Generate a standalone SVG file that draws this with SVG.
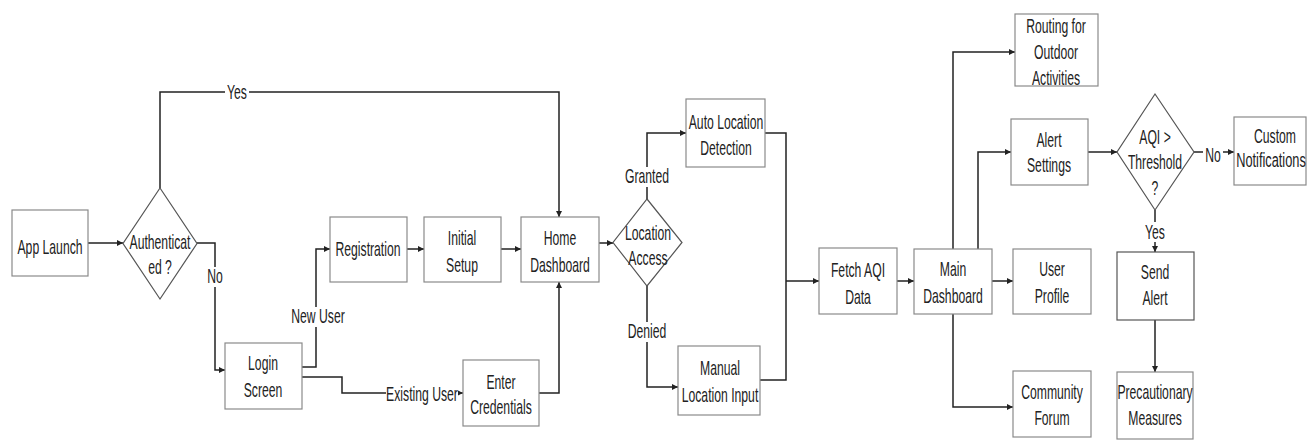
<svg xmlns="http://www.w3.org/2000/svg" width="1307" height="440" viewBox="0 0 1307 440">
<style>
.box{fill:#fff;stroke:#8a8a8a;stroke-width:1.2}
.dia{fill:#fff;stroke:#555;stroke-width:1.2}
.t{font-family:"Liberation Sans","Arial",sans-serif;font-size:20px;fill:#222;text-anchor:middle}
.c{fill:none;stroke:#222;stroke-width:1.5;marker-end:url(#a)}
.n{fill:none;stroke:#222;stroke-width:1.5}
.lb{fill:#fff}
</style>
<defs>
<marker id="a" markerUnits="userSpaceOnUse" markerWidth="8" markerHeight="8" refX="6" refY="3" orient="auto">
<path d="M0,0 L6,3 L0,6 Z" fill="#222"/>
</marker>
</defs>
<rect width="1307" height="440" fill="#fff"/>
<g id="connectors">
<path class="c" d="M88,243 H123"/>
<path class="c" d="M160,188 V92 H559 V217"/>
<path class="c" d="M197,243 H215 V370 H225"/>
<path class="c" d="M302,367 H316 V249 H330"/>
<path class="c" d="M302,377 H342 V393 H463"/>
<path class="c" d="M407,249 H424"/>
<path class="c" d="M501,249 H521"/>
<path class="c" d="M539,393 H559 V282"/>
<path class="c" d="M599,243 H613"/>
<path class="c" d="M647,199 V133 H686"/>
<path class="c" d="M647,286 V387 H678"/>
<path class="n" d="M765,133 H786 V380 H760"/>
<path class="c" d="M786,281 H819"/>
<path class="c" d="M897,281 H914"/>
<path class="c" d="M992,281 H1013"/>
<path class="c" d="M953,249 V52 H1015"/>
<path class="c" d="M978,249 V152 H1011"/>
<path class="c" d="M953,314 V407 H1013"/>
<path class="c" d="M1088,152 H1117"/>
<path class="c" d="M1194,152 H1234"/>
<path class="c" d="M1155,210 V252"/>
<path class="c" d="M1155,320 V372"/>
<rect class="lb" x="225" y="84" width="24" height="16"/>
<text class="t" transform="matrix(0.61 0 0 1 237 99)">Yes</text>
<rect class="lb" x="206" y="267" width="18" height="20"/>
<text class="t" transform="matrix(0.61 0 0 1 215 283)">No</text>
<rect class="lb" x="291" y="307" width="54" height="20"/>
<text class="t" transform="matrix(0.61 0 0 1 318 323)">New User</text>
<rect class="lb" x="386" y="384" width="72" height="20"/>
<text class="t" transform="matrix(0.61 0 0 1 422 401)">Existing User</text>
<rect class="lb" x="626" y="167" width="42" height="20"/>
<text class="t" transform="matrix(0.61 0 0 1 647 183)">Granted</text>
<rect class="lb" x="627" y="322" width="40" height="20"/>
<text class="t" transform="matrix(0.61 0 0 1 647 338)">Denied</text>
<rect class="lb" x="1203" y="145" width="20" height="18"/>
<text class="t" transform="matrix(0.61 0 0 1 1213 162)">No</text>
<rect class="lb" x="1143" y="222" width="24" height="20"/>
<text class="t" transform="matrix(0.61 0 0 1 1155 239)">Yes</text>
</g>
<g id="app-launch"><rect class="box" x="12" y="210" width="76" height="66"/><text class="t" transform="matrix(0.61 0 0 1 50 254)">App Launch</text></g>
<g id="authenticated"><path class="dia" d="M160,188 L197,243.5 L160,299 L123,243.5 Z"/><text class="t" transform="matrix(0.61 0 0 1 160 249)">Authenticat</text><text class="t" transform="matrix(0.61 0 0 1 160 274)">ed ?</text></g>
<g id="login-screen"><rect class="box" x="225" y="343" width="77" height="66"/><text class="t" transform="matrix(0.61 0 0 1 263 370)">Login</text><text class="t" transform="matrix(0.61 0 0 1 263 397)">Screen</text></g>
<g id="registration"><rect class="box" x="330" y="217" width="77" height="65"/><text class="t" transform="matrix(0.61 0 0 1 368 256)">Registration</text></g>
<g id="initial-setup"><rect class="box" x="424" y="217" width="77" height="65"/><text class="t" transform="matrix(0.61 0 0 1 462 245)">Initial</text><text class="t" transform="matrix(0.61 0 0 1 462 272)">Setup</text></g>
<g id="home-dashboard"><rect class="box" x="521" y="217" width="78" height="65"/><text class="t" transform="matrix(0.61 0 0 1 560 245)">Home</text><text class="t" transform="matrix(0.61 0 0 1 560 272)">Dashboard</text></g>
<g id="enter-credentials"><rect class="box" x="463" y="360" width="76" height="66"/><text class="t" transform="matrix(0.61 0 0 1 501 389)">Enter</text><text class="t" transform="matrix(0.61 0 0 1 501 414)">Credentials</text></g>
<g id="location-access"><path class="dia" d="M647,199 L682,242.5 L647,286 L613,242.5 Z"/><text class="t" transform="matrix(0.61 0 0 1 648 240)">Location</text><text class="t" transform="matrix(0.61 0 0 1 648 265)">Access</text></g>
<g id="auto-location"><rect class="box" x="686" y="99" width="79" height="68"/><text class="t" transform="matrix(0.61 0 0 1 726 129)">Auto Location</text><text class="t" transform="matrix(0.61 0 0 1 726 155)">Detection</text></g>
<g id="manual-location"><rect class="box" x="678" y="346" width="82" height="69"/><text class="t" transform="matrix(0.61 0 0 1 720 375)">Manual</text><text class="t" transform="matrix(0.61 0 0 1 720 402)">Location Input</text></g>
<g id="fetch-aqi"><rect class="box" x="819" y="248" width="78" height="66"/><text class="t" transform="matrix(0.61 0 0 1 858 277)">Fetch AQI</text><text class="t" transform="matrix(0.61 0 0 1 858 304)">Data</text></g>
<g id="main-dashboard"><rect class="box" x="914" y="249" width="78" height="65"/><text class="t" transform="matrix(0.61 0 0 1 953 276)">Main</text><text class="t" transform="matrix(0.61 0 0 1 953 303)">Dashboard</text></g>
<g id="routing"><rect class="box" x="1015" y="14" width="83" height="72"/><text class="t" transform="matrix(0.61 0 0 1 1056 33)">Routing for</text><text class="t" transform="matrix(0.61 0 0 1 1056 59)">Outdoor</text><text class="t" transform="matrix(0.61 0 0 1 1056 85)">Activities</text></g>
<g id="alert-settings"><rect class="box" x="1011" y="119" width="77" height="66"/><text class="t" transform="matrix(0.61 0 0 1 1049 147)">Alert</text><text class="t" transform="matrix(0.61 0 0 1 1049 172)">Settings</text></g>
<g id="user-profile"><rect class="box" x="1013" y="249" width="78" height="65"/><text class="t" transform="matrix(0.61 0 0 1 1052 276)">User</text><text class="t" transform="matrix(0.61 0 0 1 1052 303)">Profile</text></g>
<g id="community-forum"><rect class="box" x="1013" y="371" width="78" height="66"/><text class="t" transform="matrix(0.61 0 0 1 1052 399)">Community</text><text class="t" transform="matrix(0.61 0 0 1 1052 425)">Forum</text></g>
<g id="aqi-threshold"><path class="dia" d="M1155,94 L1194,152 L1155,210 L1117,152 Z"/><text class="t" transform="matrix(0.61 0 0 1 1155 144)">AQI &gt;</text><text class="t" transform="matrix(0.61 0 0 1 1155 169)">Threshold</text><text class="t" transform="matrix(0.61 0 0 1 1155 195)">?</text></g>
<g id="custom-notifications"><rect class="box" x="1234" y="117" width="72" height="68"/><text class="t" transform="matrix(0.61 0 0 1 1275 143)">Custom</text><text class="t" transform="matrix(0.64 0 0 1 1271 167)">Notifications</text></g>
<g id="send-alert"><rect class="box" x="1117" y="252" width="77" height="68" style="stroke:#555"/><text class="t" transform="matrix(0.61 0 0 1 1155 279)">Send</text><text class="t" transform="matrix(0.61 0 0 1 1155 305)">Alert</text></g>
<g id="precautionary"><rect class="box" x="1117" y="372" width="76" height="67"/><text class="t" transform="matrix(0.61 0 0 1 1155 399)">Precautionary</text><text class="t" transform="matrix(0.61 0 0 1 1155 425)">Measures</text></g>
</svg>
